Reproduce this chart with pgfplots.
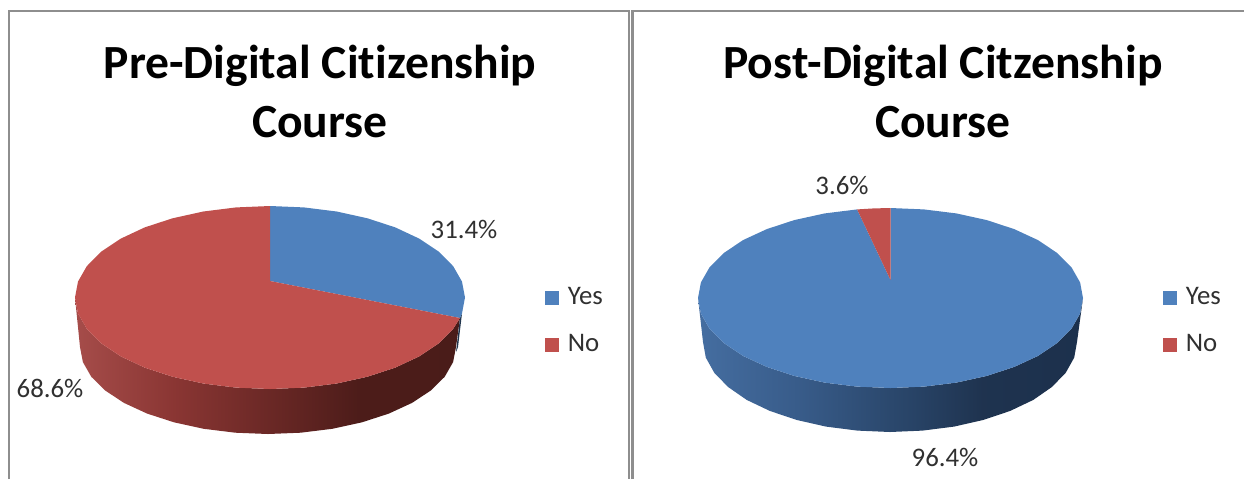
\documentclass[border=0pt]{standalone}
\usepackage{pgfplots}
\pgfplotsset{compat=1.18}
\usepackage{fontspec}
\setmainfont[RawFeature={-liga}]{Carlito}
\definecolor{pieblue}{HTML}{4F81BD}
\definecolor{piered}{HTML}{C0504D}
\definecolor{framegray}{HTML}{8E8E8E}
\definecolor{txt}{HTML}{303030}
\pgfdeclarehorizontalshading{redside}{100bp}{rgb(0bp)=(0.65,0.30,0.29);rgb(25bp)=(0.65,0.30,0.29);rgb(38bp)=(0.54,0.21,0.20);rgb(52bp)=(0.40,0.15,0.14);rgb(62bp)=(0.30,0.11,0.10);rgb(75bp)=(0.29,0.11,0.10);rgb(100bp)=(0.29,0.11,0.10)}
\pgfdeclarehorizontalshading{blueside}{100bp}{rgb(0bp)=(0.27,0.43,0.63);rgb(25bp)=(0.27,0.43,0.63);rgb(38bp)=(0.22,0.36,0.54);rgb(52bp)=(0.16,0.27,0.41);rgb(62bp)=(0.12,0.20,0.31);rgb(75bp)=(0.11,0.19,0.30);rgb(100bp)=(0.11,0.19,0.30)}
\tikzset{
  ttl/.style={font=\fontsize{23.8}{26}\selectfont\bfseries,text=black,inner sep=0pt},
  lbl/.style={font=\fontsize{13.4}{15}\selectfont,text=txt,inner sep=0pt},
}
\pgfplotsset{
  panel/.style={
    at={(0,0)},anchor=south west,scale only axis,width=622pt,height=239.5pt,
    xmin=0,xmax=1244,ymin=0,ymax=479,y dir=reverse,hide axis,clip=false,
    legend cell align=left,
    legend image code/.code={\fill[##1] (0pt,-3.5pt) rectangle (7pt,3.5pt);},
  },
}
\begin{document}
\begin{tikzpicture}
\useasboundingbox (0,0) rectangle (622pt,239.5pt);
% ---------- Left panel ----------
\begin{axis}[panel,
  legend style={at={(axis cs:545,283)},anchor=north west,draw=none,fill=none,inner sep=0pt,
    row sep=9.5pt,font=\fontsize{13.4}{15}\selectfont\color{txt}}]
% frame
\addplot[framegray,line width=1.1pt,forget plot] coordinates {(9,479)(9,11)(629,11)(629,479)};
% side of slices
\addplot[shade,shading=redside,draw=none,forget plot] coordinates {
 (460,318)(453.2,328.8)(438.9,343.3)(419.4,356.3)(395.3,367.6)(367.5,376.7)(336.7,383.5)(303.9,387.6)(270,389)
 (236.1,387.6)(203.3,383.5)(172.5,376.7)(144.7,367.6)(120.6,356.3)(101.1,343.3)(86.8,328.8)(78,313.4)(75,297.5)
 (80,347)(82.9,362.1)(91.3,376.8)(105.2,390.5)(124,402.9)(147.2,413.6)(174,422.3)(203.7,428.8)(235.4,432.7)(268,434)
 (300.6,432.7)(332.3,428.8)(362,422.3)(388.8,413.6)(412,402.9)(430.8,390.5)(444.7,376.8)(453.1,362.1)(456,347)};
\addplot[fill=pieblue!40!black,draw=none,forget plot] coordinates {(462,313.4)(460,318)(456,352)(458,347)};
% top faces
\addplot[fill=pieblue,draw=none] coordinates {
 (270,281)(270,206)(303.9,207.4)(336.7,211.5)(367.5,218.3)(395.3,227.4)(419.4,238.7)(438.9,251.7)(453.2,266.2)(462,281.6)(465,297.5)(462,313.4)(460,318)};
\addlegendentry{\,Yes}
\addplot[fill=piered,draw=none] coordinates {
 (270,281)(460,318)(453.2,328.8)(438.9,343.3)(419.4,356.3)(395.3,367.6)(367.5,376.7)(336.7,383.5)(303.9,387.6)(270,389)
 (236.1,387.6)(203.3,383.5)(172.5,376.7)(144.7,367.6)(120.6,356.3)(101.1,343.3)(86.8,328.8)(78,313.4)(75,297.5)
 (78,281.6)(86.8,266.2)(101.1,251.7)(120.6,238.7)(144.7,227.4)(172.5,218.3)(203.3,211.5)(236.1,207.4)(270,206)};
\addlegendentry{\,No}
\node[ttl] at (axis cs:320,66) {Pre-Digital Citizenship};
\node[ttl] at (axis cs:320,122) {Course};
\node[lbl] at (axis cs:464,229) {31.4\%};
\node[lbl] at (axis cs:50,388) {68.6\%};
\end{axis}
% ---------- Right panel ----------
\begin{axis}[panel,
  legend style={at={(axis cs:1163,283)},anchor=north west,draw=none,fill=none,inner sep=0pt,
    row sep=9.5pt,font=\fontsize{13.4}{15}\selectfont\color{txt}}]
\addplot[framegray,line width=1.1pt,forget plot] coordinates {(632.5,479)(632.5,11)(1244,11)};
\addplot[shade,shading=blueside,draw=none,forget plot] coordinates {
 (1083,298)(1080.1,313.6)(1071.4,328.8)(1057.2,343)(1038,355.9)(1014.2,366.9)(986.8,375.9)(956.3,382.6)(923.9,386.6)(890.5,388)
 (857.1,386.6)(824.7,382.6)(794.2,375.9)(766.8,366.9)(743,355.9)(723.8,343)(709.6,328.8)(700.9,313.6)(698,298)
 (703,342)(705.8,357.6)(714.3,372.8)(728.1,387)(746.7,399.9)(769.8,410.9)(796.5,419.9)(826,426.6)(857.5,430.6)(890,432)
 (922.5,430.6)(954,426.6)(983.5,419.9)(1010.2,410.9)(1033.3,399.9)(1051.9,387)(1065.7,372.8)(1074.2,357.6)(1077,342)};
\addplot[fill=pieblue,draw=none] coordinates {
 (890.5,280)(890.5,208)(923.9,209.4)(956.3,213.4)(986.8,220.1)(1014.2,229.1)(1038,240.1)(1057.2,253)(1071.4,267.2)(1080.1,282.4)(1083,298)
 (1080.1,313.6)(1071.4,328.8)(1057.2,343)(1038,355.9)(1014.2,366.9)(986.8,375.9)(956.3,382.6)(923.9,386.6)(890.5,388)
 (857.1,386.6)(824.7,382.6)(794.2,375.9)(766.8,366.9)(743,355.9)(723.8,343)(709.6,328.8)(700.9,313.6)(698,298)
 (700.9,282.4)(709.6,267.2)(723.8,253)(743,240.1)(766.8,229.1)(794.2,220.1)(824.7,213.4)(857.1,209.4)};
\addlegendentry{\,Yes}
\addplot[fill=piered,draw=none] coordinates {(890.5,280)(857.1,209.4)(873.8,208.4)(890.5,208)};
\addlegendentry{\,No}
\node[ttl] at (axis cs:943,66) {Post-Digital Citzenship};
\node[ttl] at (axis cs:943,122) {Course};
\node[lbl] at (axis cs:842,185) {3.6\%};
\node[lbl] at (axis cs:945,457) {96.4\%};
\end{axis}
\end{tikzpicture}
\end{document}
